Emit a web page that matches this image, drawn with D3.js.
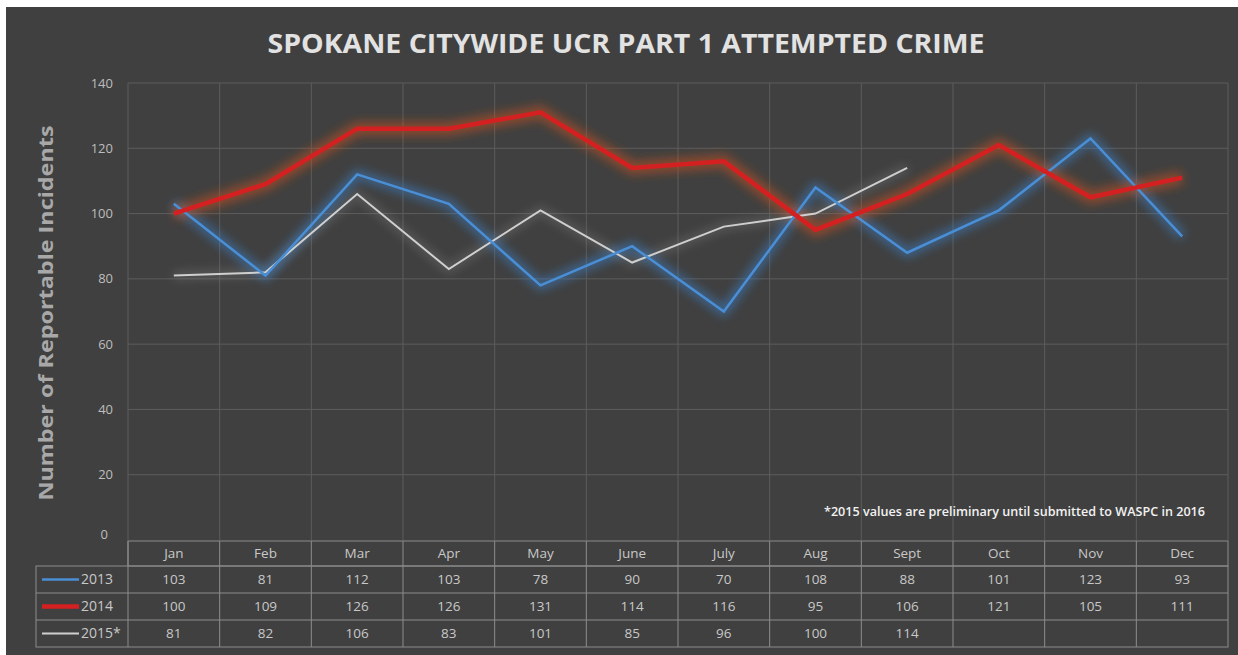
<!DOCTYPE html>
<html>
<head>
<meta charset="utf-8">
<script src="https://d3js.org/d3.v7.min.js"></script>
<style>
  body { margin: 0; background: #ffffff; }
  svg { display: block; }
</style>
</head>
<body>
<svg id="chart"></svg>
<script>
var months = ["Jan","Feb","Mar","Apr","May","June","July","Aug","Sept","Oct","Nov","Dec"];
var years = ["2013","2014","2015*"];
var v2013 = [103,81,112,103,78,90,70,108,88,101,123,93];
var v2014 = [100,109,126,126,131,114,116,95,106,121,105,111];
var v2015 = [81,82,106,83,101,85,96,100,114];
var yTicks = [0,20,40,60,80,100,120,140];

var W = 1238, H = 655;
// note: "top" is reserved on window, so plot edges get their own names
var plotLeft = 128, plotRight = 1228, plotTop = 83, plotBottom = 540;

var svg = d3.select("#chart").attr("width", W).attr("height", H);

// glow filter
var defs = svg.append("defs");
defs.append("filter").attr("id", "blurBig")
  .attr("x", "-10%").attr("y", "-40%").attr("width", "120%").attr("height", "180%")
  .append("feGaussianBlur").attr("stdDeviation", 5);

// dark panel
svg.append("rect").attr("x", 6).attr("y", 7).attr("width", W - 6).attr("height", H - 7)
  .attr("fill", "#404040");

var x = d3.scaleBand().domain(months).range([plotLeft, plotRight]).padding(0);
var y = d3.scaleLinear().domain([0, 140]).range([plotBottom, plotTop]);

// gridlines
var grid = svg.append("g");
grid.selectAll(".hgrid").data(yTicks.filter(function(d) { return d > 0; })).enter()
  .append("line").attr("class", "hgrid")
  .attr("x1", plotLeft).attr("x2", plotRight)
  .attr("y1", function(d) { return y(d); }).attr("y2", function(d) { return y(d); })
  .attr("stroke", "#5c5c5c").attr("stroke-width", 1);
grid.selectAll(".vgrid").data(months.concat(["end"])).enter()
  .append("line").attr("class", "vgrid")
  .attr("x1", function(d, i) { return plotLeft + i * x.bandwidth(); })
  .attr("x2", function(d, i) { return plotLeft + i * x.bandwidth(); })
  .attr("y1", plotTop).attr("y2", plotBottom)
  .attr("stroke", "#5c5c5c").attr("stroke-width", 1);

// y axis labels
svg.append("g").selectAll("text").data(yTicks).enter()
  .append("text")
  .attr("x", function(d) { return d === 0 ? 108 : 113; })
  .attr("y", function(d) { return y(d) - (d === 0 ? 6 : 0); })
  .attr("dy", "0.35em")
  .attr("text-anchor", "end")
  .attr("font-family", "Open Sans")
  .attr("font-size", 13)
  .attr("fill", "#bdbdbd")
  .text(function(d) { return d; });

// title
svg.append("text")
  .attr("x", 626).attr("y", 53)
  .attr("text-anchor", "middle")
  .attr("font-family", "Open Sans")
  .attr("font-weight", "bold")
  .attr("font-size", 26)
  .attr("textLength", 717).attr("lengthAdjust", "spacingAndGlyphs")
  .attr("fill", "#e2e2e2")
  .text("SPOKANE CITYWIDE UCR PART 1 ATTEMPTED CRIME");

// y axis title
svg.append("text")
  .attr("transform", "translate(53,313) rotate(-90)")
  .attr("text-anchor", "middle")
  .attr("font-family", "Open Sans")
  .attr("font-weight", "bold")
  .attr("font-size", 20)
  .attr("textLength", 375).attr("lengthAdjust", "spacingAndGlyphs")
  .attr("fill", "#a8a8a8")
  .text("Number of  Reportable Incidents");

// note
svg.append("text")
  .attr("x", 1205).attr("y", 516)
  .attr("text-anchor", "end")
  .attr("font-family", "Open Sans")
  .attr("font-weight", "600")
  .attr("font-size", 12)
  .attr("textLength", 381).attr("lengthAdjust", "spacingAndGlyphs")
  .attr("fill", "#f2f2f2")
  .text("*2015 values are preliminary until submitted to WASPC in 2016");

// series
var line = d3.line()
  .x(function(d, i) { return x(months[i]) + x.bandwidth() / 2; })
  .y(function(d) { return y(d); });

var series = [
  { name: "2015*", values: v2015, color: "#cfcfcf", width: 2, glowColor: "#8a8a8a", glowWidth: 8, glowOp: 0.35 },
  { name: "2013", values: v2013, color: "#4a8fd6", width: 2.5, glowColor: "#3d7fc8", glowWidth: 10, glowOp: 0.55 },
  { name: "2014", values: v2014, color: "#d42020", width: 4.5, glowColor: "#c4501c", glowWidth: 14, glowOp: 0.55 }
];

var lines = svg.append("g");
series.forEach(function(s) {
  lines.append("path")
    .attr("d", line(s.values))
    .attr("fill", "none")
    .attr("stroke", s.glowColor)
    .attr("stroke-width", s.glowWidth)
    .attr("stroke-opacity", s.glowOp)
    .attr("stroke-linejoin", "round")
    .attr("filter", "url(#blurBig)");
});
series.forEach(function(s) {
  lines.append("path")
    .attr("d", line(s.values))
    .attr("fill", "none")
    .attr("stroke", s.color)
    .attr("stroke-width", s.width)
    .attr("stroke-linejoin", "miter");
});

// data table
var rowTop = 541, headH = 25, rowH = 27, legLeft = 36;
var tbl = svg.append("g");
var border = "#8c8c8c";

// header row
tbl.append("rect").attr("x", plotLeft).attr("y", rowTop).attr("width", plotRight - plotLeft).attr("height", headH)
  .attr("fill", "none").attr("stroke", border);
// data rows
tbl.append("rect").attr("x", legLeft).attr("y", rowTop + headH).attr("width", plotRight - legLeft).attr("height", rowH * 3)
  .attr("fill", "none").attr("stroke", border);
[1, 2].forEach(function(i) {
  tbl.append("line").attr("x1", legLeft).attr("x2", plotRight)
    .attr("y1", rowTop + headH + i * rowH).attr("y2", rowTop + headH + i * rowH)
    .attr("stroke", border);
});
tbl.selectAll(".col").data(months).enter()
  .append("line").attr("class", "col")
  .attr("x1", function(d) { return x(d); }).attr("x2", function(d) { return x(d); })
  .attr("y1", rowTop).attr("y2", rowTop + headH + rowH * 3)
  .attr("stroke", border);

tbl.selectAll(".mon").data(months).enter()
  .append("text").attr("class", "mon")
  .attr("x", function(d) { return x(d) + x.bandwidth() / 2; })
  .attr("y", rowTop + headH / 2).attr("dy", "0.35em")
  .attr("text-anchor", "middle")
  .attr("font-family", "Open Sans").attr("font-size", 13.5)
  .attr("fill", "#c8c8c8")
  .text(function(d) { return d; });

var tableSeries = [series[1], series[2], series[0]];
tableSeries.forEach(function(s, r) {
  var cy = rowTop + headH + r * rowH + rowH / 2;
  tbl.append("line").attr("x1", 42).attr("x2", 79).attr("y1", cy).attr("y2", cy)
    .attr("stroke", s.color).attr("stroke-width", s.width);
  tbl.append("text").attr("x", 81).attr("y", cy).attr("dy", "0.35em")
    .attr("text-anchor", "start")
    .attr("font-family", "Open Sans").attr("font-size", 14)
    .attr("fill", "#c8c8c8")
    .text(years[r]);
  tbl.selectAll(".v" + r).data(s.values).enter()
    .append("text").attr("class", "v" + r)
    .attr("x", function(d, i) { return x(months[i]) + x.bandwidth() / 2; })
    .attr("y", cy).attr("dy", "0.35em")
    .attr("text-anchor", "middle")
    .attr("font-family", "Open Sans").attr("font-size", 13.5)
    .attr("fill", "#c8c8c8")
    .text(function(d) { return d; });
});
</script>
</body>
</html>
